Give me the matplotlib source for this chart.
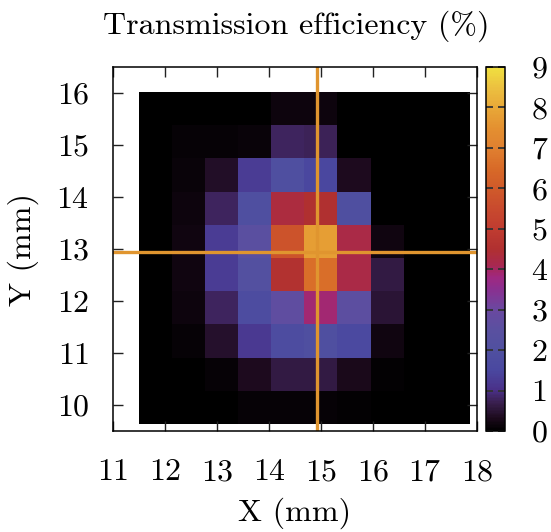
import numpy as np
import matplotlib
matplotlib.use("Agg")
import matplotlib.pyplot as plt
from matplotlib.colors import LinearSegmentedColormap

plt.rcParams['font.family'] = 'serif'
plt.rcParams['font.serif'] = ['cmr10']
plt.rcParams['mathtext.fontset'] = 'cm'
plt.rcParams['axes.unicode_minus'] = False
plt.rcParams['axes.formatter.use_mathtext'] = True

# transmission map (%), rows from top (Y = 16) to bottom
transmission = [
    [0.00, 0.00, 0.00, 0.00, 0.15, 0.15, 0.00, 0.00, 0.00, 0.00],
    [0.00, 0.10, 0.10, 0.12, 0.80, 0.75, 0.00, 0.00, 0.00, 0.00],
    [0.00, 0.12, 0.40, 1.30, 2.00, 1.50, 0.35, 0.00, 0.00, 0.00],
    [0.00, 0.15, 0.80, 2.00, 4.30, 4.50, 2.00, 0.00, 0.00, 0.00],
    [0.00, 0.20, 1.30, 2.50, 5.80, 7.80, 4.20, 0.20, 0.00, 0.00],
    [0.00, 0.20, 1.30, 2.20, 4.60, 6.60, 4.20, 0.60, 0.00, 0.00],
    [0.00, 0.15, 0.80, 1.80, 2.70, 3.90, 2.60, 0.50, 0.00, 0.00],
    [0.00, 0.10, 0.45, 1.20, 1.80, 2.00, 1.60, 0.20, 0.00, 0.00],
    [0.00, 0.00, 0.10, 0.35, 0.60, 0.60, 0.30, 0.07, 0.00, 0.00],
    [0.00, 0.00, 0.03, 0.08, 0.10, 0.08, 0.05, 0.02, 0.00, 0.00],
]
scan_x = [11.5, 17.86]
scan_y = [9.63, 16.0]
beam_x = 14.93
beam_y = 12.95
x_ticks = [11, 12, 13, 14, 15, 16, 17, 18]
y_ticks = [10, 11, 12, 13, 14, 15, 16]
cb_ticks = [0, 1, 2, 3, 4, 5, 6, 7, 8, 9]

# palette stops (value, colour)
stops = [(0.0, '#000000'), (0.3, '#1c0a1c'), (0.7, '#3a2050'), (1.0, '#4a3088'),
         (1.5, '#4a48a0'), (2.0, '#5050a0'), (2.5, '#5a50a0'), (3.0, '#6a48a0'),
         (3.5, '#8a3090'), (3.8, '#a02880'), (4.1, '#a82850'), (4.5, '#b03030'),
         (5.0, '#c03c30'), (5.5, '#c84a2e'), (6.0, '#d05a2a'), (6.5, '#d86a28'),
         (7.0, '#e08030'), (7.5, '#e49030'), (8.0, '#e8a838'), (8.5, '#ecc040'),
         (9.0, '#f0e040')]
cmap = LinearSegmentedColormap.from_list('trans', [(v / 9.0, c) for v, c in stops])

FS = 23
W, H = 551, 532
fig = plt.figure(figsize=(W / 100, H / 100), dpi=100)
ax = fig.add_axes([113 / W, 1 - 431 / H, 364 / W, 364 / H])
cax = fig.add_axes([486 / W, 1 - 431 / H, 19 / W, 364 / H])

im = ax.imshow(np.array(transmission), cmap=cmap, vmin=0, vmax=9, origin='upper',
               extent=[scan_x[0], scan_x[1], scan_y[0], scan_y[1]],
               interpolation='nearest', aspect='auto')
ax.axvline(beam_x, color='#e0952f', lw=2.4)
ax.axhline(beam_y, color='#e0952f', lw=2.4)

ax.set_xlim(11, 18)
ax.set_ylim(9.5, 16.5)
ax.set_xticks(x_ticks)
ax.set_yticks(y_ticks)
ax.tick_params(direction='in', length=7, width=1, labelsize=FS,
               top=True, right=True, color='#222222')
ax.tick_params(axis='x', pad=20)
ax.tick_params(axis='y', pad=17)
for s in ax.spines.values():
    s.set_linewidth(1.1)

ax.set_xlabel('X (mm)', fontsize=FS)
ax.xaxis.set_label_coords(0.5, -(513 - 431) / 364)
ax.xaxis.label.set_va('center')
ax.set_ylabel('Y (mm)', fontsize=FS)
ax.yaxis.set_label_coords(-(113 - 23) / 364, 0.5)
ax.yaxis.label.set_va('center')

cb = fig.colorbar(im, cax=cax, ticks=cb_ticks)
cb.outline.set_linewidth(1.1)
cax.tick_params(direction='in', length=5, width=1.3, color='#333333',
                left=True, right=True, labelleft=False, labelright=True,
                labelsize=FS, pad=19)

fig.text(296 / W, 1 - 26 / H, 'Transmission efficiency (%)', fontsize=FS,
         ha='center', va='center')

fig.savefig('out.png', dpi=100)
